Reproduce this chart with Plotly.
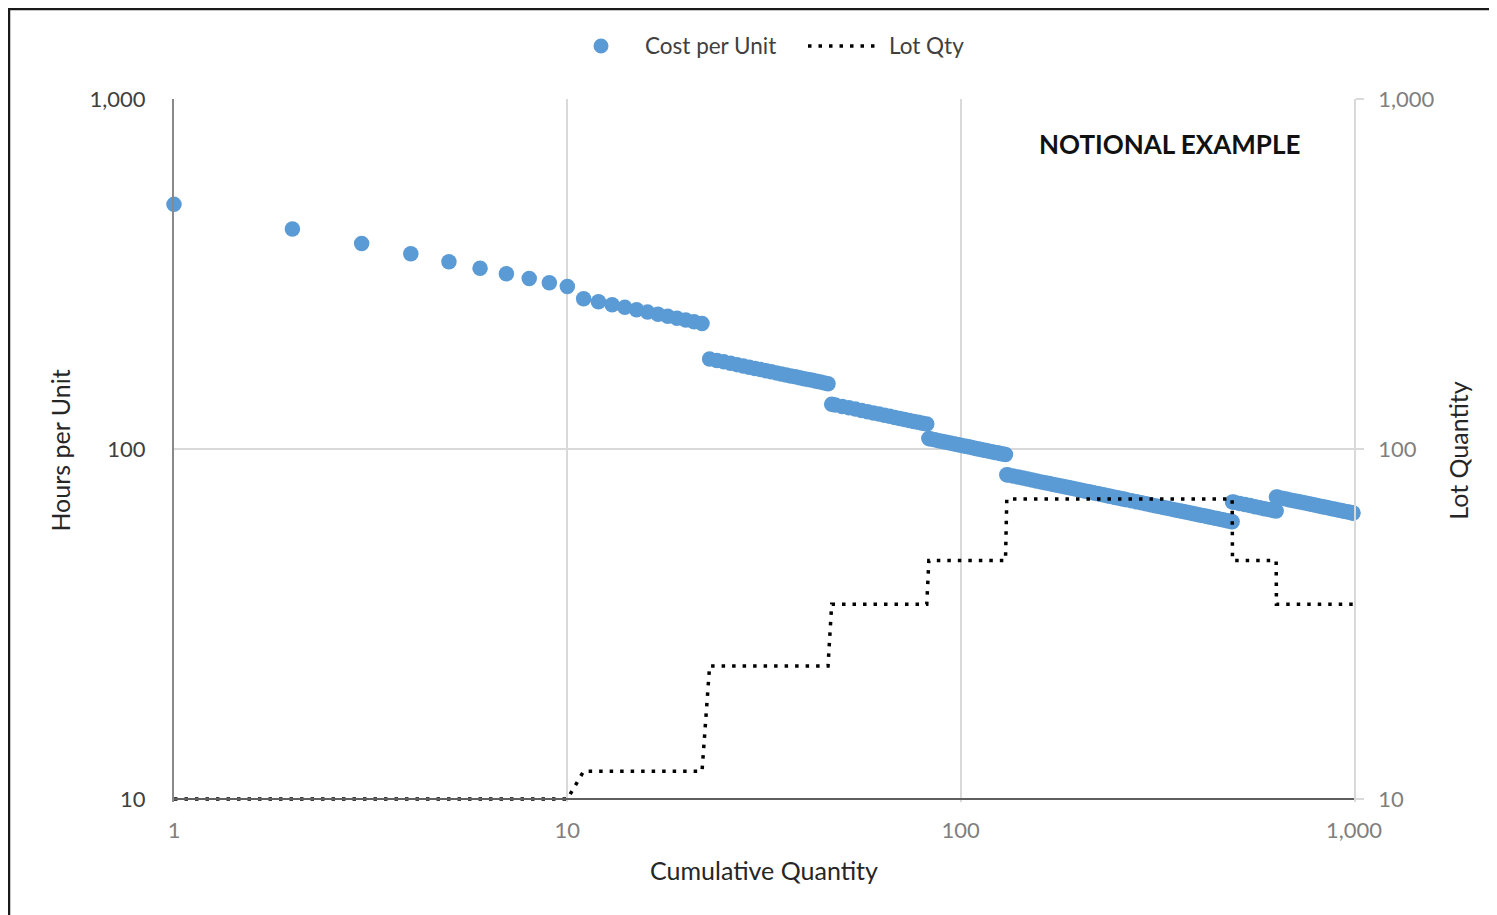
import plotly.graph_objects as go

# ---- data ----
# Cost per unit (hours) at cumulative unit numbers
cost_units = [
    1, 2, 3, 4, 5, 6, 7, 8, 9, 10,
    11, 12, 13, 14, 15, 16, 17, 18, 19, 20, 21, 22,
    23, 24, 25, 26, 27, 28, 29, 30, 31, 32, 33, 34, 35, 36, 37, 38, 39, 40, 41, 42, 43, 44, 45, 46,
    47, 48, 50, 52, 54, 56, 58, 60, 62, 64, 66, 68, 70, 72, 74, 76, 78, 80, 82,
    83, 84, 86, 88, 90, 92, 94, 96, 98, 100, 102, 104, 106, 108, 110, 112, 114, 116, 118, 120,
    122, 124, 126, 128, 130,
    131, 132, 136, 140, 144, 148, 152, 156, 160, 164, 168, 172, 176, 180, 184, 188, 192, 196,
    200, 204, 208, 212, 216, 220, 224, 228, 232, 236, 240, 244, 248, 252, 256, 260,
    264, 272, 280, 288, 296, 304, 312, 320, 328, 336, 344, 352, 360, 368, 376, 384, 392, 400,
    408, 416, 424, 432, 440, 448, 456, 464, 472, 480, 488, 490,
    491, 496, 512, 528, 544, 560, 576, 592, 608, 624, 634,
    635, 640, 656, 672, 688, 704, 720, 736, 752, 768, 784, 800, 816, 832, 848, 864, 880, 896,
    912, 928, 944, 960, 976, 992, 994,
]
cost_hours = [
    500.0, 425.0, 386.5, 361.3, 342.8, 328.5, 316.8, 307.1, 298.7, 291.4,
    268.7, 263.3, 258.4, 253.9, 249.9, 246.1, 242.7, 239.4, 236.4, 233.6, 230.9, 228.4,
    180.8, 179.0, 177.4, 175.7, 174.2, 172.7, 171.2, 169.9, 168.6, 167.3, 166.2, 165.0, 163.9,
    162.8, 161.7, 160.8, 159.8, 158.8, 157.9, 157.1, 156.2, 155.3, 154.5, 153.7,
    134.2, 133.5, 132.3, 131.1, 130.0, 128.8, 127.8, 126.8, 125.8, 124.8, 124.0, 123.1, 122.2,
    121.4, 120.7, 119.9, 119.2, 118.5, 117.8,
    107.1, 106.8, 106.2, 105.6, 105.1, 104.5, 104.0, 103.5, 103.0, 102.5, 102.0, 101.6, 101.1,
    100.7, 100.2, 99.8, 99.4, 99.0, 98.6, 98.2, 97.8, 97.5, 97.1, 96.7, 96.4,
    84.40, 84.27, 83.69, 83.12, 82.58, 82.05, 81.55, 81.05, 80.55, 80.10, 79.67, 79.21, 78.79,
    78.37, 77.95, 77.57, 77.19, 76.80, 76.46, 76.12, 75.77, 75.43, 75.12, 74.78, 74.47, 74.16,
    73.84, 73.55, 73.28, 72.98, 72.71, 72.44, 72.14, 71.91,
    71.66, 71.14, 70.65, 70.20, 69.74, 69.32, 68.89, 68.47, 68.08, 67.72, 67.33, 66.98, 66.62,
    66.26, 65.93, 65.61, 65.28, 64.99, 64.70, 64.41, 64.11, 63.85, 63.56, 63.30, 63.04, 62.76,
    62.52, 62.29, 62.03, 61.96,
    70.58, 70.41, 69.88, 69.40, 68.90, 68.43, 67.99, 67.54, 67.14, 66.73, 66.47,
    72.90, 72.75, 72.34, 71.96, 71.54, 71.16, 70.78, 70.40, 70.06, 69.71, 69.36, 69.05, 68.74,
    68.43, 68.12, 67.84, 67.53, 67.26, 66.98, 66.69, 66.43, 66.18, 65.91, 65.67, 65.63,
]

# Lot quantities in production order
lot_sizes = [10, 12, 24, 36, 48, 72, 72, 72, 72, 72, 48, 48, 48,
             36, 36, 36, 36, 36, 36, 36, 36, 36, 36]

x_tick_vals = [1, 10, 100, 1000]
x_tick_text = ["1", "10", "100", "1,000"]
y_tick_vals = [10, 100, 1000]
y_tick_text = ["10", "100", "1,000"]

series_names = ["Cost per Unit", "Lot Qty"]

# lot quantity plotted against cumulative unit (first and last unit of each lot)
lot_x, lot_y = [], []
cum = 0
for q in lot_sizes:
    lot_x += [cum + 1, cum + q]
    lot_y += [q, q]
    cum += q

# ---- layout geometry (page has an 8px body margin) ----
OFF = 8
W, H = 1497 - OFF, 915 - OFF
ML, MT = 174 - OFF, 99 - OFF
MR = W - (1354 - OFF)
MB = H - (802 - OFF)
PW, PH = W - ML - MR, H - MT - MB
EXTRA = 3  # px of plot area below the x-axis line so the lot line is not clipped
ylo = 1 - EXTRA / 350.0


def px_x(p):
    return (p - OFF - ML) / PW


def px_y(p):
    return (H - MB - (p - OFF)) / PH


FONT = "Lato, Carlito, Calibri, sans-serif"
BLUE = "#5B9BD5"
DOT = "3.5px,7px"

fig = go.Figure()
fig.add_trace(go.Scatter(
    x=cost_units, y=cost_hours, name=series_names[0], mode="markers",
    marker=dict(color=BLUE, size=15.5, line=dict(width=0)),
    cliponaxis=False, xaxis="x", yaxis="y", showlegend=False,
))
fig.add_trace(go.Scatter(
    x=lot_x, y=lot_y, name=series_names[1], mode="lines",
    line=dict(color="#000000", width=3.5, dash=DOT),
    xaxis="x", yaxis="y2", showlegend=False,
))

legend_y = px_y(46)
annotations = [
    dict(text="<b>NOTIONAL EXAMPLE</b>", xref="paper", yref="paper",
         x=px_x(1169), y=px_y(144), xanchor="center", yanchor="middle",
         showarrow=False, font=dict(family=FONT, size=26, color="#111111")),
    dict(text=series_names[0], xref="paper", yref="paper",
         x=px_x(643), y=legend_y, xanchor="left", yanchor="middle",
         showarrow=False, font=dict(family=FONT, size=22.5, color="#404040")),
    dict(text=series_names[1], xref="paper", yref="paper",
         x=px_x(887), y=legend_y, xanchor="left", yanchor="middle",
         showarrow=False, font=dict(family=FONT, size=22.5, color="#404040")),
]
shapes = [
    # outer chart border
    dict(type="rect", xref="paper", yref="paper",
         x0=px_x(9), x1=px_x(1520), y0=px_y(940), y1=px_y(9),
         line=dict(color="#1a1a1a", width=2.5), fillcolor="rgba(0,0,0,0)", layer="above"),
    # legend symbols
    dict(type="circle", xref="paper", yref="paper",
         x0=px_x(593.5), x1=px_x(608.5), y0=px_y(53.5), y1=px_y(38.5),
         line=dict(width=0), fillcolor=BLUE, layer="above"),
    dict(type="line", xref="paper", yref="paper",
         x0=px_x(808), x1=px_x(878), y0=legend_y, y1=legend_y,
         line=dict(color="#000000", width=3.5, dash=DOT), layer="above"),
]

fig.update_layout(
    width=W, height=H,
    margin=dict(l=ML, r=MR, t=MT, b=MB),
    paper_bgcolor="white", plot_bgcolor="white",
    font=dict(family=FONT, size=22, color="#404040"),
    showlegend=False,
    xaxis=dict(
        type="log", range=[0, 3], tickvals=x_tick_vals, ticktext=x_tick_text,
        showgrid=True, gridcolor="#d9d9d9", gridwidth=1.5,
        showline=True, linecolor="#5f5f5f", linewidth=2,
        ticks="", anchor="free", position=EXTRA / PH,
        tickfont=dict(size=22, color="#7f7f7f"), ticklabelstandoff=12,
        title=dict(text="Cumulative Quantity", font=dict(size=25, color="#262626"), standoff=19),
        zeroline=False,
    ),
    yaxis=dict(
        type="log", range=[ylo, 3], tickvals=y_tick_vals, ticktext=y_tick_text,
        showgrid=True, gridcolor="#d9d9d9", gridwidth=1.5,
        showline=True, linecolor="#898989", linewidth=2,
        ticks="", tickfont=dict(size=22, color="#404040"), ticklabelstandoff=22,
        title=dict(text="Hours per Unit", font=dict(size=25, color="#262626"), standoff=12),
        zeroline=False,
    ),
    yaxis2=dict(
        type="log", range=[ylo, 3], tickvals=y_tick_vals, ticktext=y_tick_text,
        overlaying="y", side="right", anchor="x",
        showgrid=False, showline=True, linecolor="#d9d9d9", linewidth=1.5,
        ticks="outside", ticklen=8, tickcolor="#d9d9d9", tickwidth=1.5,
        tickfont=dict(size=22, color="#7f7f7f"), ticklabelstandoff=10,
        title=dict(text="Lot Quantity", font=dict(size=25, color="#262626"), standoff=17),
        zeroline=False,
    ),
    annotations=annotations,
    shapes=shapes,
)

fig.write_html("out.html")
